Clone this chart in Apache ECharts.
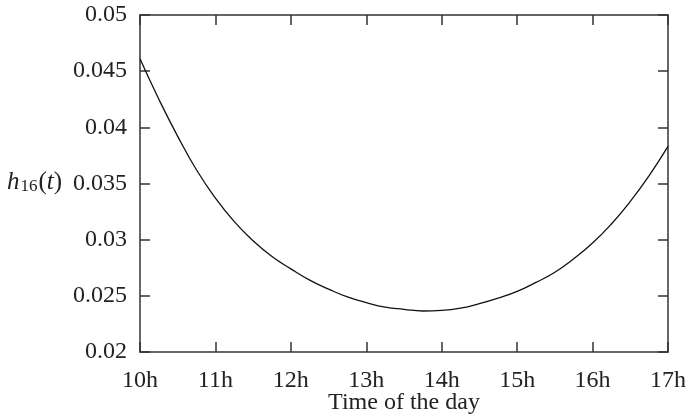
<!DOCTYPE html>
<html>
<head>
<meta charset="utf-8">
<script src="https://cdn.jsdelivr.net/npm/echarts@6/dist/echarts.min.js"></script>
<style>
  html, body { margin: 0; padding: 0; background: #fff; }
  #chart { width: 689px; height: 419px; }
</style>
</head>
<body>
<div id="chart"></div>
<script>
// hours of the day (quarter-hour steps)
var hours = [10, 10.25, 10.5, 10.75, 11, 11.25, 11.5, 11.75, 12, 12.25, 12.5, 12.75,
  13, 13.25, 13.5, 13.75, 14, 14.25, 14.5, 14.75, 15, 15.25, 15.5, 15.75,
  16, 16.25, 16.5, 16.75, 17];
// h16(t)
var h16 = [0.0461, 0.0425, 0.0392, 0.0362, 0.0337, 0.0316, 0.0299, 0.0285, 0.0274, 0.0264, 0.0256, 0.0249,
  0.0244, 0.0240, 0.0238, 0.02365, 0.0237, 0.0239, 0.0243, 0.0248, 0.0254, 0.0262, 0.0271, 0.0283,
  0.0297, 0.0314, 0.0334, 0.0357, 0.0383];
var xTicks = ["10h", "11h", "12h", "13h", "14h", "15h", "16h", "17h"];
var yTicks = ["0.02", "0.025", "0.03", "0.035", "0.04", "0.045", "0.05"];

var font = "Liberation Serif";
var axisColor = "#333";

var chart = echarts.init(document.getElementById("chart"));
var pts = hours.map(function (h, i) { return [h, h16[i]]; });

function tickStyle(show) {
  return {
    axisLine: { show: true, lineStyle: { color: axisColor, width: 1.5 } },
    axisTick: { show: true, inside: true, length: 10, lineStyle: { color: axisColor, width: 1.5 } },
    splitLine: { show: false },
    axisLabel: { show: show }
  };
}

chart.setOption({
  animation: false,
  backgroundColor: "#fff",
  grid: { left: 140, right: 21, top: 15, bottom: 67, outerBoundsMode: "none" },
  xAxis: [
    Object.assign({
      type: "value",
      min: 10,
      max: 17,
      interval: 1,
      position: "bottom",
      name: "Time of the day",
      nameLocation: "middle",
      nameGap: 39,
      nameMoveOverlap: false,
      nameTextStyle: { fontFamily: font, fontSize: 24, color: "#222" }
    }, tickStyle(true), {
      axisLabel: {
        show: true, margin: 17, fontFamily: font, fontSize: 24, color: "#222",
        formatter: function (v) { return xTicks[Math.round(v - 10)]; }
      }
    }),
    Object.assign({ type: "value", min: 10, max: 17, interval: 1, position: "top" }, tickStyle(false))
  ],
  yAxis: [
    Object.assign({
      type: "value",
      min: 0.02,
      max: 0.05,
      interval: 0.005,
      position: "left"
    }, tickStyle(true), {
      axisLabel: {
        show: true, margin: 13, fontFamily: font, fontSize: 24, color: "#222",
        formatter: function (v) { return yTicks[Math.round((v - 0.02) / 0.005)]; }
      }
    }),
    Object.assign({ type: "value", min: 0.02, max: 0.05, interval: 0.005, position: "right" }, tickStyle(false))
  ],
  graphic: [{
    type: "text",
    left: 7,
    top: 170,
    style: {
      text: "{i|h}{s|16}{n|(}{i|t}{n|)}",
      rich: {
        i: { fontFamily: font, fontStyle: "italic", fontSize: 25, fill: "#222" },
        n: { fontFamily: font, fontSize: 25, fill: "#222" },
        s: { fontFamily: font, fontSize: 17, fill: "#222", verticalAlign: "bottom", padding: [9, 1, 0, 1] }
      }
    }
  }],
  series: [{
    type: "line",
    data: pts,
    smooth: 0.5,
    symbol: "none",
    lineStyle: { color: "#111", width: 1.3 }
  }]
});
</script>
</body>
</html>
